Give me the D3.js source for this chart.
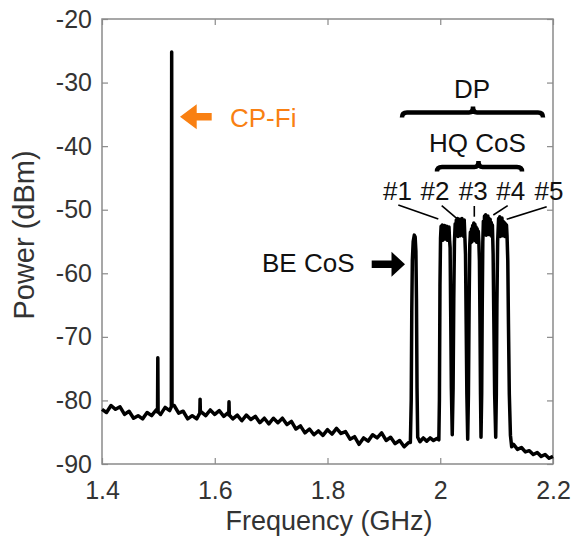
<!DOCTYPE html>
<html>
<head>
<meta charset="utf-8">
<script src="https://cdn.jsdelivr.net/npm/d3@7"></script>
<style>
  html, body { margin: 0; padding: 0; background: #fff; }
  svg { display: block; font-family: "Liberation Sans", Arial, Helvetica, sans-serif; }
</style>
</head>
<body>
<svg id="chart" width="574" height="540"></svg>
<script>
// ---------- data ----------
const xTicks = [1.4, 1.6, 1.8, 2.0, 2.2];
const xTickLabels = ["1.4", "1.6", "1.8", "2", "2.2"];
const yTicks = [-90, -80, -70, -60, -50, -40, -30, -20];
const yTickLabels = ["-90", "-80", "-70", "-60", "-50", "-40", "-30", "-20"];
const channelLabels = ["#1", "#2", "#3", "#4", "#5"];

// noise floor below the band (with spurs), [GHz, dBm]
const floorLow = [
  [1.400,-81.4],[1.408,-81.9],[1.416,-80.8],[1.424,-81.4],[1.432,-81.0],[1.440,-82.2],
  [1.448,-81.7],[1.456,-82.8],[1.464,-82.4],[1.472,-82.9],[1.480,-81.9],[1.488,-82.4],
  [1.496,-81.5],[1.4985,-81.8],[1.4990,-73.3],[1.4995,-81.8],
  [1.504,-82.2],[1.512,-81.1],[1.520,-81.6],
  [1.5230,-81.0],[1.5236,-25.2],[1.5242,-80.8],
  [1.528,-80.8],[1.536,-82.0],[1.544,-81.7],[1.552,-82.9],[1.560,-82.4],[1.568,-82.9],
  [1.5735,-82.0],[1.5740,-79.8],[1.5745,-82.0],
  [1.576,-81.8],[1.584,-82.4],[1.592,-81.5],[1.600,-82.2],[1.608,-81.6],[1.616,-82.5],
  [1.624,-81.9],[1.6248,-82.3],[1.6253,-80.2],[1.6258,-82.3],
  [1.632,-82.9],[1.640,-82.3],[1.648,-83.2],[1.656,-82.3],[1.664,-83.0],[1.672,-82.5],
  [1.680,-83.5],[1.688,-82.8],[1.696,-83.7],[1.704,-82.8],[1.712,-83.5],[1.720,-82.8],
  [1.728,-83.8],[1.736,-83.3],[1.744,-84.5],[1.752,-84.0],[1.760,-85.1],[1.768,-84.5],
  [1.776,-85.4],[1.784,-84.8],[1.792,-85.5],[1.800,-84.6],[1.808,-85.3],[1.816,-84.4],
  [1.824,-85.2],[1.832,-84.9],[1.840,-86.1],[1.848,-85.7],[1.856,-86.9],[1.864,-85.9],
  [1.872,-86.4],[1.880,-85.4],[1.888,-85.9],[1.896,-85.1],[1.904,-86.3],[1.912,-85.8],
  [1.920,-86.8],[1.928,-86.3],[1.936,-87.3],[1.944,-86.6]
];

// best-effort channel
const beCos = [
  [1.9470,-86.6],[1.9485,-80.0],[1.9495,-66.0],[1.9505,-58.0],[1.9520,-55.0],
  [1.9540,-54.0],[1.9555,-54.3],[1.9568,-56.5],[1.9578,-64.0],[1.9588,-78.0],[1.9600,-85.8]
];

const gapFloor = [
  [1.9640,-86.5],[1.9700,-85.9],[1.9760,-86.4],[1.9820,-85.9],[1.9880,-86.3],
  [1.9940,-86.0],[1.9975,-86.2]
];

// five high-quality channels
const hqChannels = [
  [1.9985,-80],[1.9995,-62],[2.0005,-54.5],
  [2.0015,-52.6],[2.0025,-54.6],[2.0035,-52.4],[2.0045,-54.8],[2.0055,-52.8],[2.0065,-54.2],
  [2.0075,-52.5],[2.0085,-54.6],[2.0095,-52.9],[2.0105,-54.4],[2.0115,-52.6],[2.0125,-54.8],
  [2.0135,-53.0],[2.0145,-54.5],[2.0155,-52.7],[2.0165,-54.7],
  [2.0175,-56],[2.0185,-66],[2.0197,-78],[2.0213,-85.4],
  [2.0228,-78],[2.0240,-64],[2.0252,-55],
  [2.0265,-52.2],[2.0275,-54.0],[2.0285,-51.6],[2.0295,-53.8],[2.0305,-51.4],[2.0315,-54.2],
  [2.0325,-51.9],[2.0335,-53.9],[2.0345,-51.5],[2.0355,-54.1],[2.0365,-52.0],[2.0375,-53.7],
  [2.0385,-51.4],[2.0395,-54.0],[2.0405,-51.8],[2.0415,-54.2],[2.0425,-51.6],[2.0435,-53.9],
  [2.0448,-57],[2.0460,-68],[2.0472,-79],[2.0487,-86.1],
  [2.0500,-79],[2.0512,-65],[2.0524,-55.5],
  [2.0535,-53.5],[2.0545,-55.2],[2.0555,-53.0],[2.0565,-55.0],[2.0575,-52.5],[2.0585,-54.8],
  [2.0595,-52.1],[2.0605,-54.6],[2.0615,-52.3],[2.0625,-54.9],[2.0635,-52.7],[2.0645,-55.1],
  [2.0655,-53.0],[2.0665,-54.8],[2.0675,-53.4],[2.0685,-55.2],
  [2.0695,-58],[2.0705,-68],[2.0714,-79],[2.0723,-85.8],
  [2.0735,-79],[2.0745,-65],[2.0755,-55],
  [2.0765,-51.8],[2.0775,-53.8],[2.0785,-51.0],[2.0795,-53.6],[2.0805,-50.8],[2.0815,-54.0],
  [2.0825,-51.2],[2.0835,-53.7],[2.0845,-51.0],[2.0855,-53.9],[2.0865,-51.4],[2.0875,-53.8],
  [2.0885,-51.5],[2.0895,-54.0],[2.0905,-52.0],[2.0915,-54.2],[2.0925,-52.4],
  [2.0938,-57],[2.0950,-67],[2.0965,-79],[2.0984,-85.8],
  [2.0995,-79],[2.1005,-65],[2.1018,-55],
  [2.1035,-51.4],[2.1045,-53.9],[2.1055,-51.1],[2.1065,-54.2],[2.1075,-51.5],[2.1085,-53.8],
  [2.1095,-51.3],[2.1105,-54.1],[2.1115,-51.8],[2.1125,-54.0],[2.1135,-52.0],[2.1145,-54.2],
  [2.1155,-52.2],[2.1165,-53.9],[2.1175,-52.4],[2.1185,-54.2],
  [2.1198,-58],[2.1210,-68],[2.1225,-79],[2.1245,-85.5],[2.1267,-87.3]
];

const floorHigh = [
  [2.1300,-86.9],[2.1370,-87.7],[2.1440,-87.4],[2.1510,-88.1],[2.1580,-87.9],[2.1650,-88.5],
  [2.1720,-88.2],[2.1790,-88.8],[2.1860,-88.5],[2.1930,-89.1],[2.2000,-88.8]
];

// ---------- chart ----------
const svg = d3.select("#chart");
const x = d3.scaleLinear().domain([1.4, 2.2]).range([102, 553]);
const y = d3.scaleLinear().domain([-90, -20]).range([464, 19]);

const axisColor = "#8a8a8a";
const labelColor = "#333333";
const textColor = "#111111";

// box
svg.append("rect")
  .attr("x", x(1.4)).attr("y", y(-20))
  .attr("width", x(2.2) - x(1.4)).attr("height", y(-90) - y(-20))
  .attr("fill", "none").attr("stroke", axisColor).attr("stroke-width", 1.5);

function styleAxis(g) {
  g.select(".domain").remove();
  g.selectAll(".tick line").attr("stroke", axisColor).attr("stroke-width", 1.2);
  g.selectAll(".tick text").attr("fill", labelColor).attr("font-size", 25)
    .attr("font-family", "'Liberation Sans', Arial, sans-serif");
}

svg.append("g").attr("transform", `translate(0,${y(-90)})`)
  .call(d3.axisBottom(x).tickValues(xTicks).tickFormat((d, i) => xTickLabels[i])
    .tickSizeInner(-6).tickSizeOuter(0).tickPadding(17))
  .call(styleAxis);
svg.append("g").attr("transform", `translate(0,${y(-20)})`)
  .call(d3.axisTop(x).tickValues(xTicks).tickFormat("").tickSizeInner(-6).tickSizeOuter(0))
  .call(styleAxis);
svg.append("g").attr("transform", `translate(${x(1.4)},0)`)
  .call(d3.axisLeft(y).tickValues(yTicks).tickFormat((d, i) => yTickLabels[i])
    .tickSizeInner(-6).tickSizeOuter(0).tickPadding(10))
  .call(styleAxis);
svg.append("g").attr("transform", `translate(${x(2.2)},0)`)
  .call(d3.axisRight(y).tickValues(yTicks).tickFormat("").tickSizeInner(-6).tickSizeOuter(0))
  .call(styleAxis);

// axis titles
svg.append("text").attr("x", 329).attr("y", 530).attr("text-anchor", "middle")
  .attr("font-size", 27).attr("fill", labelColor).text("Frequency (GHz)");
svg.append("text").attr("transform", "translate(34,235) rotate(-90)")
  .attr("text-anchor", "middle").attr("font-size", 29).attr("fill", labelColor)
  .text("Power (dBm)");

// spectrum
const spectrum = [].concat(floorLow, beCos, gapFloor, hqChannels, floorHigh);
const line = d3.line().x(d => x(d[0])).y(d => y(d[1]));
svg.append("path").datum(spectrum)
  .attr("d", line).attr("fill", "none").attr("stroke", "#000")
  .attr("stroke-width", 3.5).attr("stroke-linejoin", "round");

// CP-Fi annotation (orange arrow pointing left)
const orange = "#f98012";
svg.append("path")
  .attr("d", "M180,116.7 L196.7,104.2 L196.7,113 L211.7,113 L211.7,120.4 L196.7,120.4 L196.7,129.2 Z")
  .attr("fill", orange);
svg.append("text").attr("x", 230).attr("y", 127).attr("font-size", 26)
  .attr("fill", orange).text("CP-Fi");

// BE CoS annotation (black arrow pointing right)
svg.append("path")
  .attr("d", "M405,264.3 L391.5,251.8 L391.5,260.6 L371.7,260.6 L371.7,268 L391.5,268 L391.5,276.8 Z")
  .attr("fill", "#000");
svg.append("text").attr("x", 262).attr("y", 272).attr("font-size", 26)
  .attr("fill", textColor).text("BE CoS");

// brackets
function bracket(x0, x1, xc, yb, drop, rise) {
  return `M${x0},${yb + drop} Q${x0},${yb} ${x0 + 5},${yb} L${xc - 4},${yb} Q${xc},${yb} ${xc},${yb - rise}` +
         ` M${xc},${yb - rise} Q${xc},${yb} ${xc + 4},${yb} L${x1 - 5},${yb} Q${x1},${yb} ${x1},${yb + drop}`;
}
svg.append("path").attr("d", bracket(402, 543, 473, 112.5, 5, 6))
  .attr("fill", "none").attr("stroke", "#000").attr("stroke-width", 4.5);
svg.append("path").attr("d", bracket(437, 522, 478.5, 167, 4.5, 6))
  .attr("fill", "none").attr("stroke", "#000").attr("stroke-width", 4.5);

svg.append("text").attr("x", 472).attr("y", 98).attr("text-anchor", "middle")
  .attr("font-size", 26).attr("fill", textColor).text("DP");
svg.append("text").attr("x", 477.5).attr("y", 152).attr("text-anchor", "middle")
  .attr("font-size", 26).attr("fill", textColor).text("HQ CoS");

// channel labels and leader lines
const labelX = [397.5, 435, 473.3, 510.8, 549];
svg.selectAll("text.ch").data(channelLabels).enter().append("text")
  .attr("class", "ch").attr("x", (d, i) => labelX[i]).attr("y", 200)
  .attr("text-anchor", "middle").attr("font-size", 26).attr("fill", textColor).text(d => d);

const leaders = [
  [398.3, 205, 438.3, 219],
  [441.7, 205.7, 456.7, 218.3],
  [474.3, 206, 474.3, 216.7],
  [507.7, 205.7, 493.3, 215],
  [546.7, 206.7, 506.7, 219.3]
];
svg.selectAll("line.leader").data(leaders).enter().append("line")
  .attr("class", "leader")
  .attr("x1", d => d[0]).attr("y1", d => d[1]).attr("x2", d => d[2]).attr("y2", d => d[3])
  .attr("stroke", "#000").attr("stroke-width", 1.6);
</script>
</body>
</html>
